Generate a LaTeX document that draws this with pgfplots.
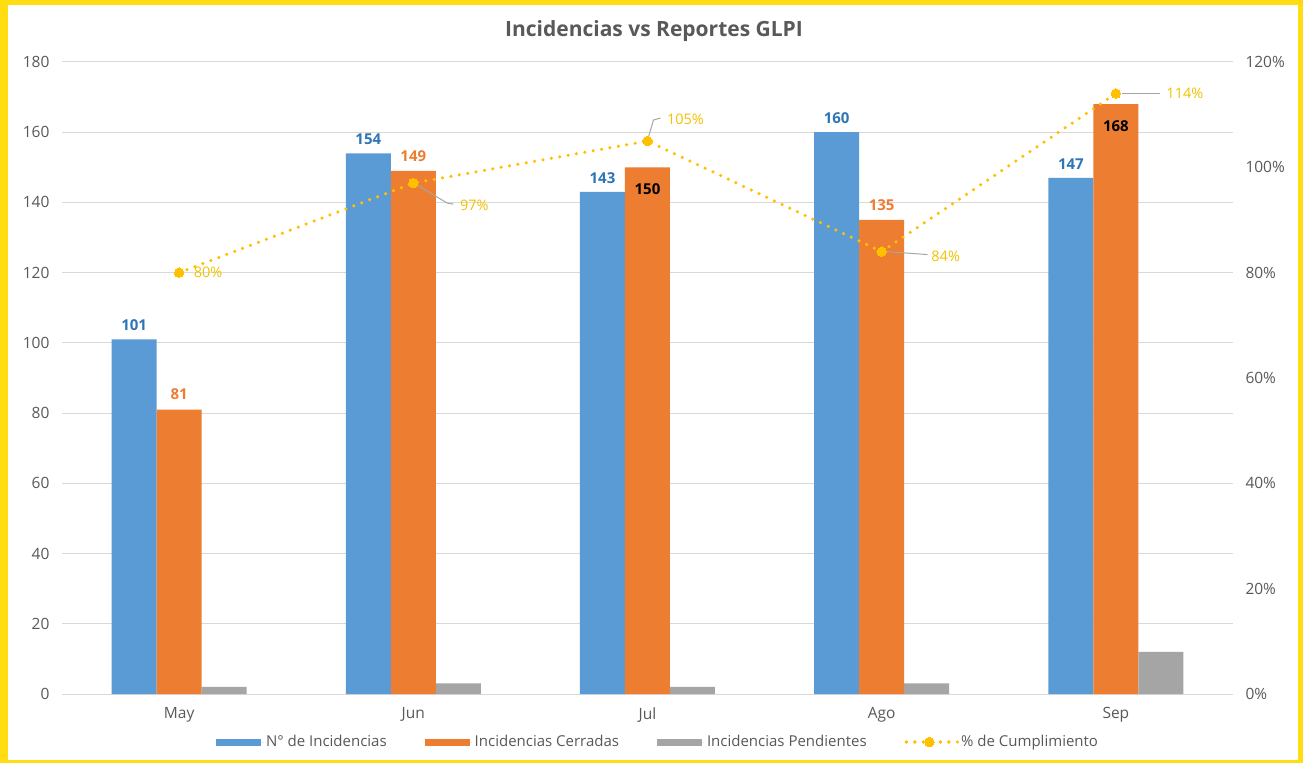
\documentclass[border=0pt]{standalone}
\usepackage{fontspec}
\setmainfont{Open Sans}
\usepackage{pgfplots}
\usepackage{pgfplotstable}
\pgfplotsset{compat=1.18}
\definecolor{bgyellow}{HTML}{FFDD10}
\definecolor{cblue}{HTML}{5B9BD5}
\definecolor{corange}{HTML}{ED7D31}
\definecolor{cgray}{HTML}{A5A5A5}
\definecolor{cyellow}{HTML}{FFC000}
\definecolor{bluelabel}{HTML}{2E75B6}
\definecolor{orangelabel}{HTML}{ED7D31}
\definecolor{pctlabel}{HTML}{F2C200}
\definecolor{ticktext}{HTML}{595959}
\definecolor{gridgray}{HTML}{D9D9D9}
\definecolor{leader}{HTML}{A6A6A6}
\newcommand\ticksize{\fontsize{15.5}{18}\selectfont}
\newcommand\legsize{\fontsize{15}{18}\selectfont}
\newcommand\barlabel{\fontsize{15}{18}\selectfont\bfseries}
\newcommand\pctsize{\fontsize{14.5}{17}\selectfont}
\pgfplotsset{
  barleg/.style={legend image code/.code={\fill[##1] (0pt,-3.5pt) rectangle (45pt,3.5pt); \path (0pt,0pt) -- (48pt,0pt);}},
  lineleg/.style={legend image code/.code={\draw[##1, mark repeat=2, mark phase=2] plot coordinates {(0pt,0pt) (23pt,0pt) (46pt,0pt)}; \path (0pt,0pt) -- (51pt,0pt);}},
}

\pgfplotstableread{
x inc
0 101
1 154
2 143
3 160
4 147
}\inctable
\pgfplotstableread{
x cerr
0 81
1 149
2 150
3 135
4 168
}\cerrtable
\pgfplotstableread{
x pend
0 2
1 3
2 2
3 3
4 12
}\pendtable
\pgfplotstableread{
x pct dx dy
0 80 29 0
1 97 61 -22
2 105 38 22
3 84 64 -5
4 114 69 0
}\pcttable

\begin{document}
\begin{tikzpicture}
\fill[bgyellow] (0,0) rectangle (1303pt,763pt);
\fill[white] (8pt,3pt) rectangle (1298pt,758pt);
\begin{axis}[
  at={(62pt,69pt)}, anchor=south west,
  scale only axis, width=1171pt, height=632pt,
  xmin=-0.5, xmax=4.5, ymin=0, ymax=180,
  xtick={0,1,2,3,4}, xticklabels={May,Jun,Jul,Ago,Sep},
  ytick={0,20,...,180},
  axis line style={draw=none}, major tick length=0pt,
  ymajorgrids, grid style={draw=gridgray, line width=1pt},
  tick label style={font=\ticksize, text=ticktext},
  yticklabel shift=9pt, xticklabel shift=10pt,
  /pgf/number format/assume math mode=true,
  clip=false,
]
\addplot[ybar, bar width=45pt, bar shift=-45pt, fill=cblue, draw=none,
  nodes near coords, point meta=y,
  nodes near coords style={font=\barlabel, text=bluelabel, anchor=center, xshift=-45pt, yshift=14pt}]
  table[x=x, y=inc] {\inctable};
\addplot[ybar, bar width=45pt, bar shift=0pt, fill=corange, draw=none]
  table[x=x, y=cerr] {\cerrtable};
\addplot[ybar, bar width=45pt, bar shift=45pt, fill=cgray, draw=none]
  table[x=x, y=pend] {\pendtable};
% labels of the orange bars: above in orange, inside in black
\addplot[draw=none, mark=none, forget plot, nodes near coords, point meta=y,
  nodes near coords style={font=\barlabel, text=orangelabel, anchor=center, yshift=15pt}]
  coordinates {(0,81) (1,149) (3,135)};
\addplot[draw=none, mark=none, forget plot, nodes near coords, point meta=y,
  nodes near coords style={font=\barlabel, text=black, anchor=center, yshift=-22pt}]
  coordinates {(2,150) (4,168)};
\end{axis}
\begin{axis}[
  at={(62pt,69pt)}, anchor=south west,
  scale only axis, width=1171pt, height=632pt,
  xmin=-0.5, xmax=4.5, ymin=0, ymax=120,
  hide x axis, axis y line*=right, y axis line style={draw=none},
  major tick length=0pt,
  ytick={0,20,...,120},
  yticklabel={\pgfmathprintnumber{\tick}\%},
  tick label style={font=\ticksize, text=ticktext},
  yticklabel shift=9pt,
  /pgf/number format/assume math mode=true,
  clip=false,
  legend columns=4,
  legend style={at={(0.509,-0.076)}, anchor=center, draw=none, fill=none,
    font=\legsize, text=ticktext,
    /tikz/every even column/.append style={column sep=36pt}},
  legend cell align=left,
]
\addlegendimage{fill=cblue, draw=none, barleg}
\addlegendimage{fill=corange, draw=none, barleg}
\addlegendimage{fill=cgray, draw=none, barleg}
\addplot[color=cyellow, line width=3.5pt, dash pattern=on 0pt off 8.5pt, line cap=round,
  mark=*, mark size=4.7pt, mark options={solid, fill=cyellow, draw=cyellow, line width=0pt},
  lineleg,
  nodes near coords={\pgfmathprintnumber{\pgfplotspointmeta}\%}, point meta=y,
  visualization depends on={\thisrow{dx} \as \dx},
  visualization depends on={\thisrow{dy} \as \dy},
  nodes near coords style={font=\pctsize, text=pctlabel, anchor=center, xshift=\dx pt, yshift=\dy pt}]
  table[x=x, y=pct] {\pcttable};
\draw[leader, line width=1pt] (axis cs:1,97) ++(4pt,-2pt) -- ++(30pt,-18pt) -- ++(6pt,-1pt);
\draw[leader, line width=1pt] (axis cs:2,105) ++(1pt,4pt) -- ++(5pt,17pt) -- ++(7pt,2pt);
\draw[leader, line width=1pt] (axis cs:3,84) ++(5pt,0pt) -- ++(41pt,-3pt);
\draw[leader, line width=1pt] (axis cs:4,114) ++(6pt,0pt) -- ++(38pt,0pt);
\legend{N° de Incidencias, Incidencias Cerradas, Incidencias Pendientes, \% de Cumplimiento}
\end{axis}
\node[font=\fontsize{21}{25}\selectfont\bfseries, text=ticktext] at (654pt,732pt) {Incidencias vs Reportes GLPI};
\end{tikzpicture}
\end{document}
